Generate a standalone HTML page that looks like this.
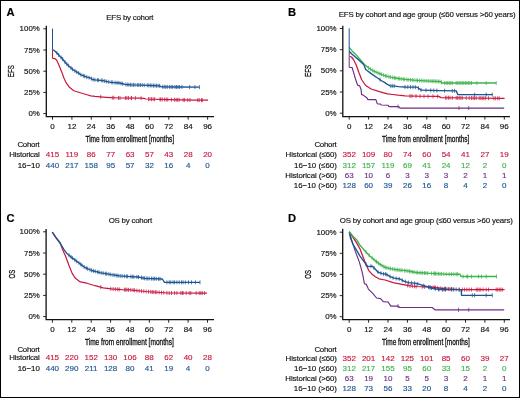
<!DOCTYPE html>
<html><head><meta charset="utf-8"><style>
html,body{margin:0;padding:0;background:#fff;}
body{width:520px;height:398px;overflow:hidden;position:relative;}
#f{position:absolute;left:0;top:0;width:518px;height:396px;border:1px solid #000;background:#fff;}
svg{position:absolute;left:0;top:0;font-family:"Liberation Sans",sans-serif;filter:blur(0.3px);}
text{fill:#111;stroke:#111;stroke-width:0.15px;font-size:7.9px;}
</style></head><body>
<div id="f"></div>
<svg width="520" height="398" viewBox="0 0 520 398">
<path d="M46.3 25.8V116.7M45.65 116.7H214" stroke="#111" stroke-width="1.3" fill="none"/>
<text x="39.8" y="31.4" text-anchor="end" >100%</text>
<text x="39.8" y="52.6" text-anchor="end" >75%</text>
<text x="39.8" y="73.8" text-anchor="end" >50%</text>
<text x="39.8" y="95.0" text-anchor="end" >25%</text>
<text x="39.8" y="116.2" text-anchor="end" >0%</text>
<text x="52.5" y="128.6" text-anchor="middle" style="font-size:8.0px;" >0</text>
<text x="71.9" y="128.6" text-anchor="middle" style="font-size:8.0px;" >12</text>
<text x="91.3" y="128.6" text-anchor="middle" style="font-size:8.0px;" >24</text>
<text x="110.7" y="128.6" text-anchor="middle" style="font-size:8.0px;" >36</text>
<text x="130.1" y="128.6" text-anchor="middle" style="font-size:8.0px;" >48</text>
<text x="149.4" y="128.6" text-anchor="middle" style="font-size:8.0px;" >60</text>
<text x="168.8" y="128.6" text-anchor="middle" style="font-size:8.0px;" >72</text>
<text x="188.2" y="128.6" text-anchor="middle" style="font-size:8.0px;" >84</text>
<text x="207.6" y="128.6" text-anchor="middle" style="font-size:8.0px;" >96</text>
<path d="M43.3 28.8H46.3M43.3 50.0H46.3M43.3 71.2H46.3M43.3 92.4H46.3M43.3 113.6H46.3M52.5 116.7v3M71.9 116.7v3M91.3 116.7v3M110.7 116.7v3M130.1 116.7v3M149.4 116.7v3M168.8 116.7v3M188.2 116.7v3M207.6 116.7v3" stroke="#111" stroke-width="0.9" fill="none"/>
<text x="106.3" y="19.5" textLength="47.2" lengthAdjust="spacing">EFS by cohort</text>
<text x="6.6" y="15.8" style="fill:#000;stroke:#000;font-size:11.2px;font-weight:bold;" >A</text>
<text x="85.4" y="142.3" style="font-size:9.6px;stroke-width:0.32px;" textLength="88.8" lengthAdjust="spacingAndGlyphs">Time from enrollment [months]</text>
<text transform="translate(14.4,71.2) rotate(-90)" text-anchor="middle" style="font-size:9.9px;stroke-width:0.3px" textLength="12" lengthAdjust="spacingAndGlyphs">EFS</text>
<polyline points="52.5,49.5 52.5,58.4" fill="none" stroke="#c8173f" stroke-width="1.0" stroke-linejoin="round"/>
<polyline points="52.5,58.4 55.0,58.7 56.6,60.0 59.1,65.5 61.5,71.4 64.0,78.2 66.4,83.2 69.7,87.6 73.8,90.7 80.3,92.7 86.9,94.7 90.8,95.8 95.0,96.3 106.0,97.3 111.4,97.7 119.6,98.0 140.0,98.1 144.0,98.4 145.8,99.0 168.3,99.6 194.2,100.1 208.1,100.2" fill="none" stroke="#c8173f" stroke-width="1.2" stroke-linejoin="round"/>
<path d="M100.8 94.8v4.0M112.3 95.7v4.0M113.8 95.8v4.0M118.5 96.0v4.0M120.0 96.0v4.0M125.4 96.0v4.0M126.9 96.0v4.0M128.5 96.0v4.0M131.2 96.1v4.0M131.5 96.1v4.0M135.4 96.1v4.0M141.1 96.2v4.0M148.5 97.1v4.0M150.0 97.1v4.0M151.5 97.2v4.0M153.1 97.2v4.0M154.6 97.2v4.0M160.0 97.4v4.0M160.8 97.4v4.0M162.3 97.4v4.0M164.6 97.5v4.0M166.2 97.5v4.0M167.7 97.6v4.0M171.5 97.7v4.0M174.6 97.7v4.0M176.2 97.8v4.0M177.7 97.8v4.0M179.2 97.8v4.0M183.1 97.9v4.0M184.6 97.9v4.0M187.7 98.0v4.0M190.0 98.0v4.0M197.7 98.1v4.0M199.2 98.1v4.0M201.5 98.2v4.0M202.3 98.2v4.0" stroke="#c8173f" stroke-width="0.75" fill="none"/>
<polyline points="52.5,28.6 52.5,49.5" fill="none" stroke="#1b5491" stroke-width="1.0" stroke-linejoin="round"/>
<polyline points="52.5,49.5 54.2,50.5 57.4,53.4 60.0,56.5 62.3,58.6 64.5,61.5 67.2,64.5 70.5,67.4 72.2,69.0 75.0,71.0 78.7,73.1 80.0,74.3 86.9,77.2 91.0,78.2 92.0,79.4 95.0,79.8 103.0,80.6 108.1,81.8 111.4,82.3 119.6,83.0 125.0,84.4 131.0,84.8 142.3,85.1 159.6,85.8 161.3,86.8 176.9,87.0 199.4,87.1" fill="none" stroke="#1b5491" stroke-width="1.35" stroke-linejoin="round"/>
<path d="M56.9 50.9v4.0M58.7 53.0v4.0M61.1 55.5v4.0M62.7 57.1v4.0M65.0 60.1v4.0M66.9 62.2v4.0M68.6 63.7v4.0M71.0 65.9v4.0M72.6 67.3v4.0M74.9 68.9v4.0M76.7 70.0v4.0M78.7 71.1v4.0M80.9 72.7v4.0M83.3 73.7v4.0M84.7 74.3v4.0M86.8 75.2v4.0M89.1 75.7v4.0M91.4 76.7v4.0M93.1 77.5v4.0M94.9 77.8v4.0M97.4 78.0v4.0M98.6 78.2v4.0M101.3 78.4v4.0M102.8 78.6v4.0M104.7 79.0v4.0M106.7 79.5v4.0M108.8 79.9v4.0M111.3 80.3v4.0M112.7 80.4v4.0M115.1 80.6v4.0M117.1 80.8v4.0M118.9 80.9v4.0M121.0 81.4v4.0M122.7 81.8v4.0M125.8 82.5v4.0M127.3 82.6v4.0M128.8 82.7v4.0M130.4 82.8v4.0M131.9 82.8v4.0M133.5 82.9v4.0M135.0 82.9v4.0M137.3 83.0v4.0M138.8 83.0v4.0M140.4 83.0v4.0M142.2 83.1v4.0M144.2 83.2v4.0M147.3 83.3v4.0M148.8 83.4v4.0M150.4 83.4v4.0M151.9 83.5v4.0M153.5 83.6v4.0M155.0 83.6v4.0M156.5 83.7v4.0M158.1 83.7v4.0M159.6 83.8v4.0M162.7 84.8v4.0M164.2 84.8v4.0M165.8 84.9v4.0M167.3 84.9v4.0M169.6 84.9v4.0M171.2 84.9v4.0M172.7 84.9v4.0M175.0 85.0v4.0M176.5 85.0v4.0M178.1 85.0v4.0M179.6 85.0v4.0M181.9 85.0v4.0M189.6 85.1v4.0M195.0 85.1v4.0M199.4 85.1v4.0" stroke="#1b5491" stroke-width="0.75" fill="none"/>
<text x="39.8" y="147.1" text-anchor="end" textLength="22.4" lengthAdjust="spacing">Cohort</text>
<text x="39.8" y="157.3" text-anchor="end" textLength="30.6" lengthAdjust="spacing">Historical</text>
<text x="52.5" y="157.3" text-anchor="middle" style="fill:#c8173f;stroke:#c8173f;font-size:8.0px;" >415</text>
<text x="71.9" y="157.3" text-anchor="middle" style="fill:#c8173f;stroke:#c8173f;font-size:8.0px;" >119</text>
<text x="91.3" y="157.3" text-anchor="middle" style="fill:#c8173f;stroke:#c8173f;font-size:8.0px;" >86</text>
<text x="110.7" y="157.3" text-anchor="middle" style="fill:#c8173f;stroke:#c8173f;font-size:8.0px;" >77</text>
<text x="130.1" y="157.3" text-anchor="middle" style="fill:#c8173f;stroke:#c8173f;font-size:8.0px;" >63</text>
<text x="149.4" y="157.3" text-anchor="middle" style="fill:#c8173f;stroke:#c8173f;font-size:8.0px;" >57</text>
<text x="168.8" y="157.3" text-anchor="middle" style="fill:#c8173f;stroke:#c8173f;font-size:8.0px;" >43</text>
<text x="188.2" y="157.3" text-anchor="middle" style="fill:#c8173f;stroke:#c8173f;font-size:8.0px;" >28</text>
<text x="207.6" y="157.3" text-anchor="middle" style="fill:#c8173f;stroke:#c8173f;font-size:8.0px;" >20</text>
<text x="39.8" y="167.5" text-anchor="end" >16−10</text>
<text x="52.5" y="167.5" text-anchor="middle" style="fill:#1b5491;stroke:#1b5491;font-size:8.0px;" >440</text>
<text x="71.9" y="167.5" text-anchor="middle" style="fill:#1b5491;stroke:#1b5491;font-size:8.0px;" >217</text>
<text x="91.3" y="167.5" text-anchor="middle" style="fill:#1b5491;stroke:#1b5491;font-size:8.0px;" >158</text>
<text x="110.7" y="167.5" text-anchor="middle" style="fill:#1b5491;stroke:#1b5491;font-size:8.0px;" >95</text>
<text x="130.1" y="167.5" text-anchor="middle" style="fill:#1b5491;stroke:#1b5491;font-size:8.0px;" >57</text>
<text x="149.4" y="167.5" text-anchor="middle" style="fill:#1b5491;stroke:#1b5491;font-size:8.0px;" >32</text>
<text x="168.8" y="167.5" text-anchor="middle" style="fill:#1b5491;stroke:#1b5491;font-size:8.0px;" >16</text>
<text x="188.2" y="167.5" text-anchor="middle" style="fill:#1b5491;stroke:#1b5491;font-size:8.0px;" >4</text>
<text x="207.6" y="167.5" text-anchor="middle" style="fill:#1b5491;stroke:#1b5491;font-size:8.0px;" >0</text>
<path d="M342.8 25.7V116.6M342.15000000000003 116.6H510" stroke="#111" stroke-width="1.3" fill="none"/>
<text x="336.6" y="31.1" text-anchor="end" >100%</text>
<text x="336.6" y="52.3" text-anchor="end" >75%</text>
<text x="336.6" y="73.4" text-anchor="end" >50%</text>
<text x="336.6" y="94.6" text-anchor="end" >25%</text>
<text x="336.6" y="115.8" text-anchor="end" >0%</text>
<text x="349.2" y="128.6" text-anchor="middle" style="font-size:8.0px;" >0</text>
<text x="368.6" y="128.6" text-anchor="middle" style="font-size:8.0px;" >12</text>
<text x="388.0" y="128.6" text-anchor="middle" style="font-size:8.0px;" >24</text>
<text x="407.4" y="128.6" text-anchor="middle" style="font-size:8.0px;" >36</text>
<text x="426.8" y="128.6" text-anchor="middle" style="font-size:8.0px;" >48</text>
<text x="446.1" y="128.6" text-anchor="middle" style="font-size:8.0px;" >60</text>
<text x="465.5" y="128.6" text-anchor="middle" style="font-size:8.0px;" >72</text>
<text x="484.9" y="128.6" text-anchor="middle" style="font-size:8.0px;" >84</text>
<text x="504.3" y="128.6" text-anchor="middle" style="font-size:8.0px;" >96</text>
<path d="M339.8 28.5H342.8M339.8 49.7H342.8M339.8 70.8H342.8M339.8 92.0H342.8M339.8 113.2H342.8M349.2 116.6v3M368.6 116.6v3M388.0 116.6v3M407.4 116.6v3M426.8 116.6v3M446.1 116.6v3M465.5 116.6v3M484.9 116.6v3M504.3 116.6v3" stroke="#111" stroke-width="0.9" fill="none"/>
<text x="338.7" y="16.6" textLength="176.9" lengthAdjust="spacing">EFS by cohort and age group (≤60 versus &gt;60 years)</text>
<text x="288.0" y="16.1" style="fill:#000;stroke:#000;font-size:11.2px;font-weight:bold;" >B</text>
<text x="382.1" y="142.2" style="font-size:9.6px;stroke-width:0.32px;" textLength="87.3" lengthAdjust="spacingAndGlyphs">Time from enrollment [months]</text>
<text transform="translate(311.3,70.8) rotate(-90)" text-anchor="middle" style="font-size:9.9px;stroke-width:0.3px" textLength="12.2" lengthAdjust="spacingAndGlyphs">EFS</text>
<polyline points="349.6,56.4 351.5,57.0 353.5,59.5 356.2,65.0 358.9,72.5 361.6,79.5 365.7,85.5 371.1,89.0 379.3,91.7 387.4,93.8 392.6,94.5 398.3,95.2 405.1,95.8 417.7,96.2 438.8,96.4 441.0,97.6 467.7,98.0 504.6,98.4" fill="none" stroke="#c8173f" stroke-width="1.25" stroke-linejoin="round"/>
<path d="M410.0 94.0v4.0M412.0 94.0v4.0M416.0 94.1v4.0M420.0 94.2v4.0M424.0 94.3v4.0M428.0 94.3v4.0M433.0 94.3v4.0M437.7 94.4v4.0M445.4 95.7v4.0M446.9 95.7v4.0M448.5 95.7v4.0M450.0 95.7v4.0M452.3 95.8v4.0M456.2 95.8v4.0M457.7 95.9v4.0M459.2 95.9v4.0M460.8 95.9v4.0M462.3 95.9v4.0M466.2 96.0v4.0M469.2 96.0v4.0M471.5 96.0v4.0M473.1 96.1v4.0M474.6 96.1v4.0M476.2 96.1v4.0M479.2 96.1v4.0M480.8 96.1v4.0M482.3 96.2v4.0M483.8 96.2v4.0M485.4 96.2v4.0M488.5 96.2v4.0M493.8 96.3v4.0M495.4 96.3v4.0M497.7 96.3v4.0M499.2 96.3v4.0" stroke="#c8173f" stroke-width="0.75" fill="none"/>
<polyline points="349.2,51.3 349.2,67.5" fill="none" stroke="#6c2e86" stroke-width="1.0" stroke-linejoin="round"/>
<polyline points="349.2,67.5 352.1,67.5 353.5,72.2 355.5,79.0 357.6,85.1 359.6,85.8 361.0,89.2 361.6,94.6 363.7,95.3 365.0,96.6 367.1,98.0 367.7,99.6 375.9,99.6 377.2,103.7 380.6,104.1 381.3,105.0 388.2,105.2 388.8,106.6 398.8,106.6 400.1,108.1 504.2,108.1" fill="none" stroke="#6c2e86" stroke-width="1.15" stroke-linejoin="round"/>
<path d="M398.0 104.6v4.0M459.0 106.1v4.0M468.7 106.1v4.0" stroke="#6c2e86" stroke-width="0.75" fill="none"/>
<polyline points="349.2,47.4 352.1,50.9 356.2,54.9 360.3,59.7 364.4,64.4 368.4,67.8 371.1,69.5 373.8,71.2 379.3,73.5 384.7,75.6 387.4,76.3 391.5,77.3 398.3,78.5 405.1,79.4 414.0,80.2 425.4,80.8 440.8,81.6 442.0,83.0 496.3,83.0" fill="none" stroke="#3db34c" stroke-width="1.35" stroke-linejoin="round"/>
<path d="M368.6 65.9v4.0M370.6 67.2v4.0M372.7 68.5v4.0M374.3 69.4v4.0M376.1 70.2v4.0M378.1 71.0v4.0M379.8 71.7v4.0M381.4 72.3v4.0M383.6 73.2v4.0M385.4 73.8v4.0M386.8 74.1v4.0M388.9 74.7v4.0M390.6 75.1v4.0M392.7 75.5v4.0M394.4 75.8v4.0M395.8 76.1v4.0M398.2 76.5v4.0M399.3 76.6v4.0M401.3 76.9v4.0M403.4 77.2v4.0M404.7 77.3v4.0M406.8 77.6v4.0M408.2 77.7v4.0M410.5 77.9v4.0M412.4 78.1v4.0M414.1 78.2v4.0M416.1 78.3v4.0M417.5 78.4v4.0M419.6 78.5v4.0M421.3 78.6v4.0M423.1 78.7v4.0M424.8 78.8v4.0M426.9 78.9v4.0M428.8 79.0v4.0M430.8 79.1v4.0M432.3 79.2v4.0M433.8 79.2v4.0M435.4 79.3v4.0M436.9 79.4v4.0M438.5 79.5v4.0M440.0 79.6v4.0M441.5 80.4v4.0M444.6 81.0v4.0M446.2 81.0v4.0M447.7 81.0v4.0M449.2 81.0v4.0M450.8 81.0v4.0M452.3 81.0v4.0M456.2 81.0v4.0M457.7 81.0v4.0M459.2 81.0v4.0M460.8 81.0v4.0M462.3 81.0v4.0M463.8 81.0v4.0M465.4 81.0v4.0M466.9 81.0v4.0M468.5 81.0v4.0M470.0 81.0v4.0M471.5 81.0v4.0M476.9 81.0v4.0M486.2 81.0v4.0M496.2 81.0v4.0" stroke="#3db34c" stroke-width="0.75" fill="none"/>
<polyline points="349.2,28.3 349.2,51.3" fill="none" stroke="#1b5491" stroke-width="1.0" stroke-linejoin="round"/>
<polyline points="349.2,51.3 352.1,54.2 357.6,59.0 363.0,63.7 364.4,66.0 365.7,69.5 367.1,70.5 371.1,73.6 377.9,78.2 382.0,81.0 385.0,82.6 386.1,83.7 388.8,85.1 390.1,85.8 395.1,86.1 398.3,86.6 405.1,87.0 417.0,87.2 421.5,90.2 440.0,90.6 456.2,90.8 457.8,94.6 492.5,94.6" fill="none" stroke="#1b5491" stroke-width="1.35" stroke-linejoin="round"/>
<path d="M380.0 77.6v4.0M390.8 83.8v4.0M392.3 83.9v4.0M394.2 84.0v4.0M405.0 85.0v4.0M407.8 85.0v4.0M410.5 85.1v4.0M413.0 85.1v4.0M415.4 85.2v4.0M418.5 86.2v4.0M421.0 87.9v4.0M426.0 88.3v4.0M430.8 88.4v4.0M433.8 88.5v4.0M436.9 88.5v4.0M444.6 88.7v4.0M452.3 88.8v4.0M454.6 88.8v4.0M474.6 92.6v4.0M486.2 92.6v4.0M492.3 92.6v4.0" stroke="#1b5491" stroke-width="0.75" fill="none"/>
<text x="336.8" y="147.1" text-anchor="end" textLength="22.4" lengthAdjust="spacing">Cohort</text>
<text x="336.8" y="157.4" text-anchor="end" textLength="51.2" lengthAdjust="spacing">Historical (≤60)</text>
<text x="349.2" y="157.4" text-anchor="middle" style="fill:#c8173f;stroke:#c8173f;font-size:8.0px;" >352</text>
<text x="368.6" y="157.4" text-anchor="middle" style="fill:#c8173f;stroke:#c8173f;font-size:8.0px;" >109</text>
<text x="388.0" y="157.4" text-anchor="middle" style="fill:#c8173f;stroke:#c8173f;font-size:8.0px;" >80</text>
<text x="407.4" y="157.4" text-anchor="middle" style="fill:#c8173f;stroke:#c8173f;font-size:8.0px;" >74</text>
<text x="426.8" y="157.4" text-anchor="middle" style="fill:#c8173f;stroke:#c8173f;font-size:8.0px;" >60</text>
<text x="446.1" y="157.4" text-anchor="middle" style="fill:#c8173f;stroke:#c8173f;font-size:8.0px;" >54</text>
<text x="465.5" y="157.4" text-anchor="middle" style="fill:#c8173f;stroke:#c8173f;font-size:8.0px;" >41</text>
<text x="484.9" y="157.4" text-anchor="middle" style="fill:#c8173f;stroke:#c8173f;font-size:8.0px;" >27</text>
<text x="504.3" y="157.4" text-anchor="middle" style="fill:#c8173f;stroke:#c8173f;font-size:8.0px;" >19</text>
<text x="336.8" y="167.6" text-anchor="end" >16−10 (≤60)</text>
<text x="349.2" y="167.6" text-anchor="middle" style="fill:#3db34c;stroke:#3db34c;font-size:8.0px;" >312</text>
<text x="368.6" y="167.6" text-anchor="middle" style="fill:#3db34c;stroke:#3db34c;font-size:8.0px;" >157</text>
<text x="388.0" y="167.6" text-anchor="middle" style="fill:#3db34c;stroke:#3db34c;font-size:8.0px;" >119</text>
<text x="407.4" y="167.6" text-anchor="middle" style="fill:#3db34c;stroke:#3db34c;font-size:8.0px;" >69</text>
<text x="426.8" y="167.6" text-anchor="middle" style="fill:#3db34c;stroke:#3db34c;font-size:8.0px;" >41</text>
<text x="446.1" y="167.6" text-anchor="middle" style="fill:#3db34c;stroke:#3db34c;font-size:8.0px;" >24</text>
<text x="465.5" y="167.6" text-anchor="middle" style="fill:#3db34c;stroke:#3db34c;font-size:8.0px;" >12</text>
<text x="484.9" y="167.6" text-anchor="middle" style="fill:#3db34c;stroke:#3db34c;font-size:8.0px;" >2</text>
<text x="504.3" y="167.6" text-anchor="middle" style="fill:#3db34c;stroke:#3db34c;font-size:8.0px;" >0</text>
<text x="336.8" y="177.8" text-anchor="end" textLength="51.5" lengthAdjust="spacing">Historical (&gt;60)</text>
<text x="349.2" y="177.8" text-anchor="middle" style="fill:#6c2e86;stroke:#6c2e86;font-size:8.0px;" >63</text>
<text x="368.6" y="177.8" text-anchor="middle" style="fill:#6c2e86;stroke:#6c2e86;font-size:8.0px;" >10</text>
<text x="388.0" y="177.8" text-anchor="middle" style="fill:#6c2e86;stroke:#6c2e86;font-size:8.0px;" >6</text>
<text x="407.4" y="177.8" text-anchor="middle" style="fill:#6c2e86;stroke:#6c2e86;font-size:8.0px;" >3</text>
<text x="426.8" y="177.8" text-anchor="middle" style="fill:#6c2e86;stroke:#6c2e86;font-size:8.0px;" >3</text>
<text x="446.1" y="177.8" text-anchor="middle" style="fill:#6c2e86;stroke:#6c2e86;font-size:8.0px;" >3</text>
<text x="465.5" y="177.8" text-anchor="middle" style="fill:#6c2e86;stroke:#6c2e86;font-size:8.0px;" >2</text>
<text x="484.9" y="177.8" text-anchor="middle" style="fill:#6c2e86;stroke:#6c2e86;font-size:8.0px;" >1</text>
<text x="504.3" y="177.8" text-anchor="middle" style="fill:#6c2e86;stroke:#6c2e86;font-size:8.0px;" >1</text>
<text x="336.8" y="188.0" text-anchor="end" >16−10 (&gt;60)</text>
<text x="349.2" y="188.0" text-anchor="middle" style="fill:#1b5491;stroke:#1b5491;font-size:8.0px;" >128</text>
<text x="368.6" y="188.0" text-anchor="middle" style="fill:#1b5491;stroke:#1b5491;font-size:8.0px;" >60</text>
<text x="388.0" y="188.0" text-anchor="middle" style="fill:#1b5491;stroke:#1b5491;font-size:8.0px;" >39</text>
<text x="407.4" y="188.0" text-anchor="middle" style="fill:#1b5491;stroke:#1b5491;font-size:8.0px;" >26</text>
<text x="426.8" y="188.0" text-anchor="middle" style="fill:#1b5491;stroke:#1b5491;font-size:8.0px;" >16</text>
<text x="446.1" y="188.0" text-anchor="middle" style="fill:#1b5491;stroke:#1b5491;font-size:8.0px;" >8</text>
<text x="465.5" y="188.0" text-anchor="middle" style="fill:#1b5491;stroke:#1b5491;font-size:8.0px;" >4</text>
<text x="484.9" y="188.0" text-anchor="middle" style="fill:#1b5491;stroke:#1b5491;font-size:8.0px;" >2</text>
<text x="504.3" y="188.0" text-anchor="middle" style="fill:#1b5491;stroke:#1b5491;font-size:8.0px;" >0</text>
<path d="M46.1 228.9V319.7M45.45 319.7H214" stroke="#111" stroke-width="1.3" fill="none"/>
<text x="39.8" y="234.4" text-anchor="end" >100%</text>
<text x="39.8" y="255.6" text-anchor="end" >75%</text>
<text x="39.8" y="276.8" text-anchor="end" >50%</text>
<text x="39.8" y="298.0" text-anchor="end" >25%</text>
<text x="39.8" y="319.2" text-anchor="end" >0%</text>
<text x="52.4" y="332.2" text-anchor="middle" style="font-size:8.0px;" >0</text>
<text x="71.8" y="332.2" text-anchor="middle" style="font-size:8.0px;" >12</text>
<text x="91.2" y="332.2" text-anchor="middle" style="font-size:8.0px;" >24</text>
<text x="110.6" y="332.2" text-anchor="middle" style="font-size:8.0px;" >36</text>
<text x="130.0" y="332.2" text-anchor="middle" style="font-size:8.0px;" >48</text>
<text x="149.3" y="332.2" text-anchor="middle" style="font-size:8.0px;" >60</text>
<text x="168.7" y="332.2" text-anchor="middle" style="font-size:8.0px;" >72</text>
<text x="188.1" y="332.2" text-anchor="middle" style="font-size:8.0px;" >84</text>
<text x="207.5" y="332.2" text-anchor="middle" style="font-size:8.0px;" >96</text>
<path d="M43.1 231.8H46.1M43.1 253.0H46.1M43.1 274.2H46.1M43.1 295.4H46.1M43.1 316.6H46.1M52.4 319.7v3M71.8 319.7v3M91.2 319.7v3M110.6 319.7v3M130.0 319.7v3M149.3 319.7v3M168.7 319.7v3M188.1 319.7v3M207.5 319.7v3" stroke="#111" stroke-width="0.9" fill="none"/>
<text x="108.7" y="222.7" textLength="43.5" lengthAdjust="spacing">OS by cohort</text>
<text x="6.6" y="221.6" style="fill:#000;stroke:#000;font-size:11.2px;font-weight:bold;" >C</text>
<text x="84.9" y="345.1" style="font-size:9.6px;stroke-width:0.32px;" textLength="88.9" lengthAdjust="spacingAndGlyphs">Time from enrollment [months]</text>
<text transform="translate(14.6,274.2) rotate(-90)" text-anchor="middle" style="font-size:9.9px;stroke-width:0.3px" textLength="8.6" lengthAdjust="spacingAndGlyphs">OS</text>
<polyline points="52.3,232.2 55.8,237.1 59.9,242.3 62.3,248.9 65.6,256.2 68.9,265.2 72.2,273.4 75.4,278.3 80.3,281.9 86.9,283.2 95.0,285.7 103.2,287.8 111.4,288.9 121.5,289.6 130.0,289.8 145.4,291.5 168.0,293.0 206.9,293.1" fill="none" stroke="#c8173f" stroke-width="1.2" stroke-linejoin="round"/>
<path d="M100.8 285.2v4.0M110.8 286.8v4.0M113.1 287.0v4.0M115.4 287.2v4.0M117.7 287.3v4.0M119.2 287.4v4.0M124.6 287.7v4.0M125.8 287.7v4.0M127.0 287.7v4.0M128.5 287.8v4.0M130.8 287.9v4.0M133.1 288.1v4.0M134.6 288.3v4.0M136.9 288.6v4.0M139.2 288.8v4.0M141.5 289.1v4.0M143.8 289.3v4.0M146.2 289.6v4.0M148.5 289.7v4.0M150.8 289.9v4.0M152.3 290.0v4.0M153.8 290.1v4.0M155.4 290.2v4.0M156.9 290.3v4.0M159.2 290.4v4.0M161.5 290.6v4.0M163.8 290.7v4.0M166.9 290.9v4.0M169.2 291.0v4.0M171.5 291.0v4.0M174.6 291.0v4.0M176.9 291.0v4.0M180.8 291.0v4.0M182.3 291.0v4.0M183.1 291.0v4.0M186.2 291.0v4.0M189.2 291.1v4.0M190.8 291.1v4.0M196.2 291.1v4.0M199.2 291.1v4.0M200.8 291.1v4.0M202.3 291.1v4.0M204.6 291.1v4.0" stroke="#c8173f" stroke-width="0.75" fill="none"/>
<polyline points="52.3,232.2 55.8,237.6 60.7,244.0 64.0,249.7 67.2,253.8 72.2,257.9 78.7,262.8 85.2,267.7 91.8,270.5 99.9,272.6 111.4,274.7 119.6,275.9 130.0,276.6 138.0,277.0 145.0,278.4 162.3,279.0 164.5,282.3 200.0,282.3" fill="none" stroke="#1b5491" stroke-width="1.35" stroke-linejoin="round"/>
<path d="M69.0 253.3v4.0M71.0 254.9v4.0M72.4 256.1v4.0M74.9 257.9v4.0M76.7 259.3v4.0M78.9 261.0v4.0M80.7 262.3v4.0M82.1 263.4v4.0M84.1 264.9v4.0M86.2 266.1v4.0M87.6 266.7v4.0M89.9 267.7v4.0M91.5 268.4v4.0M93.4 268.9v4.0M95.2 269.4v4.0M97.7 270.0v4.0M99.1 270.4v4.0M101.1 270.8v4.0M103.1 271.2v4.0M105.4 271.6v4.0M106.7 271.8v4.0M108.9 272.2v4.0M110.8 272.6v4.0M113.0 272.9v4.0M114.9 273.2v4.0M116.8 273.5v4.0M118.2 273.7v4.0M120.2 273.9v4.0M122.1 274.1v4.0M124.4 274.2v4.0M126.4 274.4v4.0M127.6 274.4v4.0M130.8 274.6v4.0M132.3 274.7v4.0M133.8 274.8v4.0M136.9 274.9v4.0M138.5 275.1v4.0M141.5 275.7v4.0M143.1 276.0v4.0M144.6 276.3v4.0M146.2 276.4v4.0M147.7 276.5v4.0M149.2 276.5v4.0M151.5 276.6v4.0M153.1 276.7v4.0M154.6 276.7v4.0M156.2 276.8v4.0M158.5 276.9v4.0M160.0 276.9v4.0M166.9 280.3v4.0M169.2 280.3v4.0M170.8 280.3v4.0M173.1 280.3v4.0M174.6 280.3v4.0M176.9 280.3v4.0M179.2 280.3v4.0M181.5 280.3v4.0M183.1 280.3v4.0M185.4 280.3v4.0M188.5 280.3v4.0M191.5 280.3v4.0M195.4 280.3v4.0M200.0 280.3v4.0" stroke="#1b5491" stroke-width="0.75" fill="none"/>
<text x="39.8" y="352.4" text-anchor="end" textLength="22.4" lengthAdjust="spacing">Cohort</text>
<text x="39.8" y="360.4" text-anchor="end" textLength="30.6" lengthAdjust="spacing">Historical</text>
<text x="52.4" y="360.4" text-anchor="middle" style="fill:#c8173f;stroke:#c8173f;font-size:8.0px;" >415</text>
<text x="71.8" y="360.4" text-anchor="middle" style="fill:#c8173f;stroke:#c8173f;font-size:8.0px;" >220</text>
<text x="91.2" y="360.4" text-anchor="middle" style="fill:#c8173f;stroke:#c8173f;font-size:8.0px;" >152</text>
<text x="110.6" y="360.4" text-anchor="middle" style="fill:#c8173f;stroke:#c8173f;font-size:8.0px;" >130</text>
<text x="130.0" y="360.4" text-anchor="middle" style="fill:#c8173f;stroke:#c8173f;font-size:8.0px;" >106</text>
<text x="149.3" y="360.4" text-anchor="middle" style="fill:#c8173f;stroke:#c8173f;font-size:8.0px;" >88</text>
<text x="168.7" y="360.4" text-anchor="middle" style="fill:#c8173f;stroke:#c8173f;font-size:8.0px;" >62</text>
<text x="188.1" y="360.4" text-anchor="middle" style="fill:#c8173f;stroke:#c8173f;font-size:8.0px;" >40</text>
<text x="207.5" y="360.4" text-anchor="middle" style="fill:#c8173f;stroke:#c8173f;font-size:8.0px;" >28</text>
<text x="39.8" y="370.8" text-anchor="end" >16−10</text>
<text x="52.4" y="370.8" text-anchor="middle" style="fill:#1b5491;stroke:#1b5491;font-size:8.0px;" >440</text>
<text x="71.8" y="370.8" text-anchor="middle" style="fill:#1b5491;stroke:#1b5491;font-size:8.0px;" >290</text>
<text x="91.2" y="370.8" text-anchor="middle" style="fill:#1b5491;stroke:#1b5491;font-size:8.0px;" >211</text>
<text x="110.6" y="370.8" text-anchor="middle" style="fill:#1b5491;stroke:#1b5491;font-size:8.0px;" >128</text>
<text x="130.0" y="370.8" text-anchor="middle" style="fill:#1b5491;stroke:#1b5491;font-size:8.0px;" >80</text>
<text x="149.3" y="370.8" text-anchor="middle" style="fill:#1b5491;stroke:#1b5491;font-size:8.0px;" >41</text>
<text x="168.7" y="370.8" text-anchor="middle" style="fill:#1b5491;stroke:#1b5491;font-size:8.0px;" >19</text>
<text x="188.1" y="370.8" text-anchor="middle" style="fill:#1b5491;stroke:#1b5491;font-size:8.0px;" >4</text>
<text x="207.5" y="370.8" text-anchor="middle" style="fill:#1b5491;stroke:#1b5491;font-size:8.0px;" >0</text>
<path d="M342.7 228.8V319.7M342.05 319.7H510" stroke="#111" stroke-width="1.3" fill="none"/>
<text x="336.6" y="234.8" text-anchor="end" >100%</text>
<text x="336.6" y="255.9" text-anchor="end" >75%</text>
<text x="336.6" y="277.1" text-anchor="end" >50%</text>
<text x="336.6" y="298.2" text-anchor="end" >25%</text>
<text x="336.6" y="319.3" text-anchor="end" >0%</text>
<text x="349.2" y="332.2" text-anchor="middle" style="font-size:8.0px;" >0</text>
<text x="368.6" y="332.2" text-anchor="middle" style="font-size:8.0px;" >12</text>
<text x="388.0" y="332.2" text-anchor="middle" style="font-size:8.0px;" >24</text>
<text x="407.4" y="332.2" text-anchor="middle" style="font-size:8.0px;" >36</text>
<text x="426.8" y="332.2" text-anchor="middle" style="font-size:8.0px;" >48</text>
<text x="446.1" y="332.2" text-anchor="middle" style="font-size:8.0px;" >60</text>
<text x="465.5" y="332.2" text-anchor="middle" style="font-size:8.0px;" >72</text>
<text x="484.9" y="332.2" text-anchor="middle" style="font-size:8.0px;" >84</text>
<text x="504.3" y="332.2" text-anchor="middle" style="font-size:8.0px;" >96</text>
<path d="M339.7 232.2H342.7M339.7 253.3H342.7M339.7 274.4H342.7M339.7 295.6H342.7M339.7 316.7H342.7M349.2 319.7v3M368.6 319.7v3M388.0 319.7v3M407.4 319.7v3M426.8 319.7v3M446.1 319.7v3M465.5 319.7v3M484.9 319.7v3M504.3 319.7v3" stroke="#111" stroke-width="0.9" fill="none"/>
<text x="339.7" y="222.7" textLength="173.2" lengthAdjust="spacing">OS by cohort and age group (≤60 versus &gt;60 years)</text>
<text x="288.0" y="221.6" style="fill:#000;stroke:#000;font-size:11.2px;font-weight:bold;" >D</text>
<text x="382.1" y="345.1" style="font-size:9.6px;stroke-width:0.32px;" textLength="87.8" lengthAdjust="spacingAndGlyphs">Time from enrollment [months]</text>
<text transform="translate(311.4,274.4) rotate(-90)" text-anchor="middle" style="font-size:9.9px;stroke-width:0.3px" textLength="8.6" lengthAdjust="spacingAndGlyphs">OS</text>
<polyline points="349.3,231.8 353.0,237.4 356.8,243.1 360.0,249.0 363.0,256.8 366.0,264.8 369.0,270.8 372.0,274.2 375.0,276.5 379.0,278.8 385.1,280.0 393.1,282.6 400.8,284.2 408.5,285.7 416.2,286.5 431.5,287.2 445.4,288.8 460.0,289.6 504.6,289.6" fill="none" stroke="#c8173f" stroke-width="1.25" stroke-linejoin="round"/>
<path d="M407.7 283.5v4.0M410.0 283.9v4.0M412.3 284.1v4.0M414.6 284.3v4.0M416.2 284.5v4.0M422.3 284.8v4.0M424.6 284.9v4.0M430.0 285.1v4.0M434.6 285.6v4.0M440.8 286.3v4.0M445.4 286.8v4.0M433.1 285.4v4.0M435.4 285.6v4.0M437.7 285.9v4.0M444.6 286.7v4.0M446.9 286.9v4.0M448.5 287.0v4.0M450.0 287.1v4.0M451.5 287.1v4.0M453.1 287.2v4.0M456.2 287.4v4.0M459.2 287.6v4.0M462.3 287.6v4.0M464.6 287.6v4.0M466.9 287.6v4.0M469.2 287.6v4.0M471.5 287.6v4.0M476.2 287.6v4.0M477.7 287.6v4.0M479.2 287.6v4.0M480.8 287.6v4.0M483.1 287.6v4.0M486.2 287.6v4.0M488.5 287.6v4.0M496.2 287.6v4.0M497.7 287.6v4.0M499.2 287.6v4.0M500.8 287.6v4.0M502.3 287.6v4.0" stroke="#c8173f" stroke-width="0.75" fill="none"/>
<polyline points="349.3,231.8 351.8,240.6 355.5,251.9 359.3,261.9 361.8,270.7 362.6,274.0 364.4,283.7 366.4,284.4 368.4,289.1 372.5,293.2 376.6,298.0 380.6,298.6 383.3,301.6 388.1,302.0 390.8,306.1 398.3,306.1 399.6,307.5 432.1,307.5 435.0,309.8 504.2,309.8" fill="none" stroke="#6c2e86" stroke-width="1.15" stroke-linejoin="round"/>
<path d="M398.0 304.1v4.0M458.5 307.8v4.0M468.7 307.8v4.0" stroke="#6c2e86" stroke-width="0.75" fill="none"/>
<polyline points="349.3,231.8 350.5,238.0 353.0,244.3 356.8,250.6 360.0,256.1 364.0,261.6 368.0,266.6 372.1,266.1 375.1,269.1 378.1,272.2 382.1,273.7 386.1,274.2 390.2,276.7 394.2,278.2 400.0,279.0 403.8,281.1 408.5,282.6 416.2,283.4 423.8,285.7 431.5,288.0 437.7,289.3 461.2,289.6 461.5,295.3 492.3,295.3" fill="none" stroke="#1b5491" stroke-width="1.35" stroke-linejoin="round"/>
<path d="M366.0 262.1v4.0M371.0 264.2v4.0M374.0 266.0v4.0M378.0 270.1v4.0M381.0 271.3v4.0M383.5 271.9v4.0M385.4 272.1v4.0M386.9 272.7v4.0M390.0 274.6v4.0M393.1 275.8v4.0M396.2 276.5v4.0M399.2 276.9v4.0M402.3 278.3v4.0M405.4 279.6v4.0M408.5 280.6v4.0M411.5 280.9v4.0M414.6 281.2v4.0M417.7 281.9v4.0M423.8 283.7v4.0M428.5 285.1v4.0M431.5 286.0v4.0M439.2 287.3v4.0M442.3 287.4v4.0M445.4 287.4v4.0M430.0 285.6v4.0M435.4 286.8v4.0M438.5 287.3v4.0M442.3 287.4v4.0M443.8 287.4v4.0M445.4 287.4v4.0M451.5 287.5v4.0M453.8 287.5v4.0M459.2 287.6v4.0M472.3 293.3v4.0M474.6 293.3v4.0M486.2 293.3v4.0M492.3 293.3v4.0" stroke="#1b5491" stroke-width="0.75" fill="none"/>
<polyline points="349.3,231.8 353.0,236.2 356.8,239.9 360.0,245.3 365.0,251.0 370.0,256.2 375.1,260.6 380.1,264.4 385.1,267.3 390.2,268.6 394.6,269.4 400.0,270.1 406.0,270.7 416.2,272.5 431.5,273.4 445.4,274.2 460.0,274.2 461.0,276.5 496.5,276.5" fill="none" stroke="#3db34c" stroke-width="1.35" stroke-linejoin="round"/>
<path d="M366.0 250.0v4.0M369.0 253.2v4.0M372.0 255.9v4.0M374.0 257.7v4.0M376.0 259.3v4.0M376.7 259.8v4.0M378.5 261.2v4.0M380.2 262.5v4.0M382.1 263.6v4.0M383.9 264.6v4.0M385.3 265.4v4.0M386.8 265.7v4.0M388.8 266.2v4.0M390.5 266.7v4.0M392.4 267.0v4.0M394.4 267.4v4.0M395.9 267.6v4.0M397.4 267.8v4.0M399.2 268.0v4.0M400.9 268.2v4.0M402.1 268.3v4.0M404.5 268.6v4.0M406.1 268.7v4.0M407.9 269.0v4.0M409.5 269.3v4.0M410.9 269.6v4.0M412.6 269.9v4.0M414.1 270.1v4.0M416.2 270.5v4.0M417.4 270.6v4.0M419.2 270.7v4.0M421.0 270.8v4.0M422.6 270.9v4.0M424.5 271.0v4.0M425.9 271.1v4.0M427.6 271.2v4.0M431.5 271.4v4.0M433.8 271.5v4.0M434.6 271.6v4.0M435.4 271.6v4.0M436.9 271.7v4.0M438.5 271.8v4.0M440.0 271.9v4.0M441.5 272.0v4.0M443.8 272.1v4.0M446.2 272.2v4.0M449.2 272.2v4.0M451.5 272.2v4.0M453.8 272.2v4.0M456.2 272.2v4.0M457.7 272.2v4.0M463.1 274.5v4.0M466.9 274.5v4.0M467.7 274.5v4.0M471.5 274.5v4.0M478.5 274.5v4.0M481.5 274.5v4.0M486.2 274.5v4.0M496.5 274.5v4.0" stroke="#3db34c" stroke-width="0.75" fill="none"/>
<text x="336.8" y="352.4" text-anchor="end" textLength="22.4" lengthAdjust="spacing">Cohort</text>
<text x="336.8" y="360.7" text-anchor="end" textLength="51.2" lengthAdjust="spacing">Historical (≤60)</text>
<text x="349.2" y="360.7" text-anchor="middle" style="fill:#c8173f;stroke:#c8173f;font-size:8.0px;" >352</text>
<text x="368.6" y="360.7" text-anchor="middle" style="fill:#c8173f;stroke:#c8173f;font-size:8.0px;" >201</text>
<text x="388.0" y="360.7" text-anchor="middle" style="fill:#c8173f;stroke:#c8173f;font-size:8.0px;" >142</text>
<text x="407.4" y="360.7" text-anchor="middle" style="fill:#c8173f;stroke:#c8173f;font-size:8.0px;" >125</text>
<text x="426.8" y="360.7" text-anchor="middle" style="fill:#c8173f;stroke:#c8173f;font-size:8.0px;" >101</text>
<text x="446.1" y="360.7" text-anchor="middle" style="fill:#c8173f;stroke:#c8173f;font-size:8.0px;" >85</text>
<text x="465.5" y="360.7" text-anchor="middle" style="fill:#c8173f;stroke:#c8173f;font-size:8.0px;" >60</text>
<text x="484.9" y="360.7" text-anchor="middle" style="fill:#c8173f;stroke:#c8173f;font-size:8.0px;" >39</text>
<text x="504.3" y="360.7" text-anchor="middle" style="fill:#c8173f;stroke:#c8173f;font-size:8.0px;" >27</text>
<text x="336.8" y="370.8" text-anchor="end" >16−10 (≤60)</text>
<text x="349.2" y="370.8" text-anchor="middle" style="fill:#3db34c;stroke:#3db34c;font-size:8.0px;" >312</text>
<text x="368.6" y="370.8" text-anchor="middle" style="fill:#3db34c;stroke:#3db34c;font-size:8.0px;" >217</text>
<text x="388.0" y="370.8" text-anchor="middle" style="fill:#3db34c;stroke:#3db34c;font-size:8.0px;" >155</text>
<text x="407.4" y="370.8" text-anchor="middle" style="fill:#3db34c;stroke:#3db34c;font-size:8.0px;" >95</text>
<text x="426.8" y="370.8" text-anchor="middle" style="fill:#3db34c;stroke:#3db34c;font-size:8.0px;" >60</text>
<text x="446.1" y="370.8" text-anchor="middle" style="fill:#3db34c;stroke:#3db34c;font-size:8.0px;" >33</text>
<text x="465.5" y="370.8" text-anchor="middle" style="fill:#3db34c;stroke:#3db34c;font-size:8.0px;" >15</text>
<text x="484.9" y="370.8" text-anchor="middle" style="fill:#3db34c;stroke:#3db34c;font-size:8.0px;" >2</text>
<text x="504.3" y="370.8" text-anchor="middle" style="fill:#3db34c;stroke:#3db34c;font-size:8.0px;" >0</text>
<text x="336.8" y="381.0" text-anchor="end" textLength="51.5" lengthAdjust="spacing">Historical (&gt;60)</text>
<text x="349.2" y="381.0" text-anchor="middle" style="fill:#6c2e86;stroke:#6c2e86;font-size:8.0px;" >63</text>
<text x="368.6" y="381.0" text-anchor="middle" style="fill:#6c2e86;stroke:#6c2e86;font-size:8.0px;" >19</text>
<text x="388.0" y="381.0" text-anchor="middle" style="fill:#6c2e86;stroke:#6c2e86;font-size:8.0px;" >10</text>
<text x="407.4" y="381.0" text-anchor="middle" style="fill:#6c2e86;stroke:#6c2e86;font-size:8.0px;" >5</text>
<text x="426.8" y="381.0" text-anchor="middle" style="fill:#6c2e86;stroke:#6c2e86;font-size:8.0px;" >5</text>
<text x="446.1" y="381.0" text-anchor="middle" style="fill:#6c2e86;stroke:#6c2e86;font-size:8.0px;" >3</text>
<text x="465.5" y="381.0" text-anchor="middle" style="fill:#6c2e86;stroke:#6c2e86;font-size:8.0px;" >2</text>
<text x="484.9" y="381.0" text-anchor="middle" style="fill:#6c2e86;stroke:#6c2e86;font-size:8.0px;" >1</text>
<text x="504.3" y="381.0" text-anchor="middle" style="fill:#6c2e86;stroke:#6c2e86;font-size:8.0px;" >1</text>
<text x="336.8" y="391.2" text-anchor="end" >16−10 (&gt;60)</text>
<text x="349.2" y="391.2" text-anchor="middle" style="fill:#1b5491;stroke:#1b5491;font-size:8.0px;" >128</text>
<text x="368.6" y="391.2" text-anchor="middle" style="fill:#1b5491;stroke:#1b5491;font-size:8.0px;" >73</text>
<text x="388.0" y="391.2" text-anchor="middle" style="fill:#1b5491;stroke:#1b5491;font-size:8.0px;" >56</text>
<text x="407.4" y="391.2" text-anchor="middle" style="fill:#1b5491;stroke:#1b5491;font-size:8.0px;" >33</text>
<text x="426.8" y="391.2" text-anchor="middle" style="fill:#1b5491;stroke:#1b5491;font-size:8.0px;" >20</text>
<text x="446.1" y="391.2" text-anchor="middle" style="fill:#1b5491;stroke:#1b5491;font-size:8.0px;" >8</text>
<text x="465.5" y="391.2" text-anchor="middle" style="fill:#1b5491;stroke:#1b5491;font-size:8.0px;" >4</text>
<text x="484.9" y="391.2" text-anchor="middle" style="fill:#1b5491;stroke:#1b5491;font-size:8.0px;" >2</text>
<text x="504.3" y="391.2" text-anchor="middle" style="fill:#1b5491;stroke:#1b5491;font-size:8.0px;" >0</text>
</svg>
</body></html>
